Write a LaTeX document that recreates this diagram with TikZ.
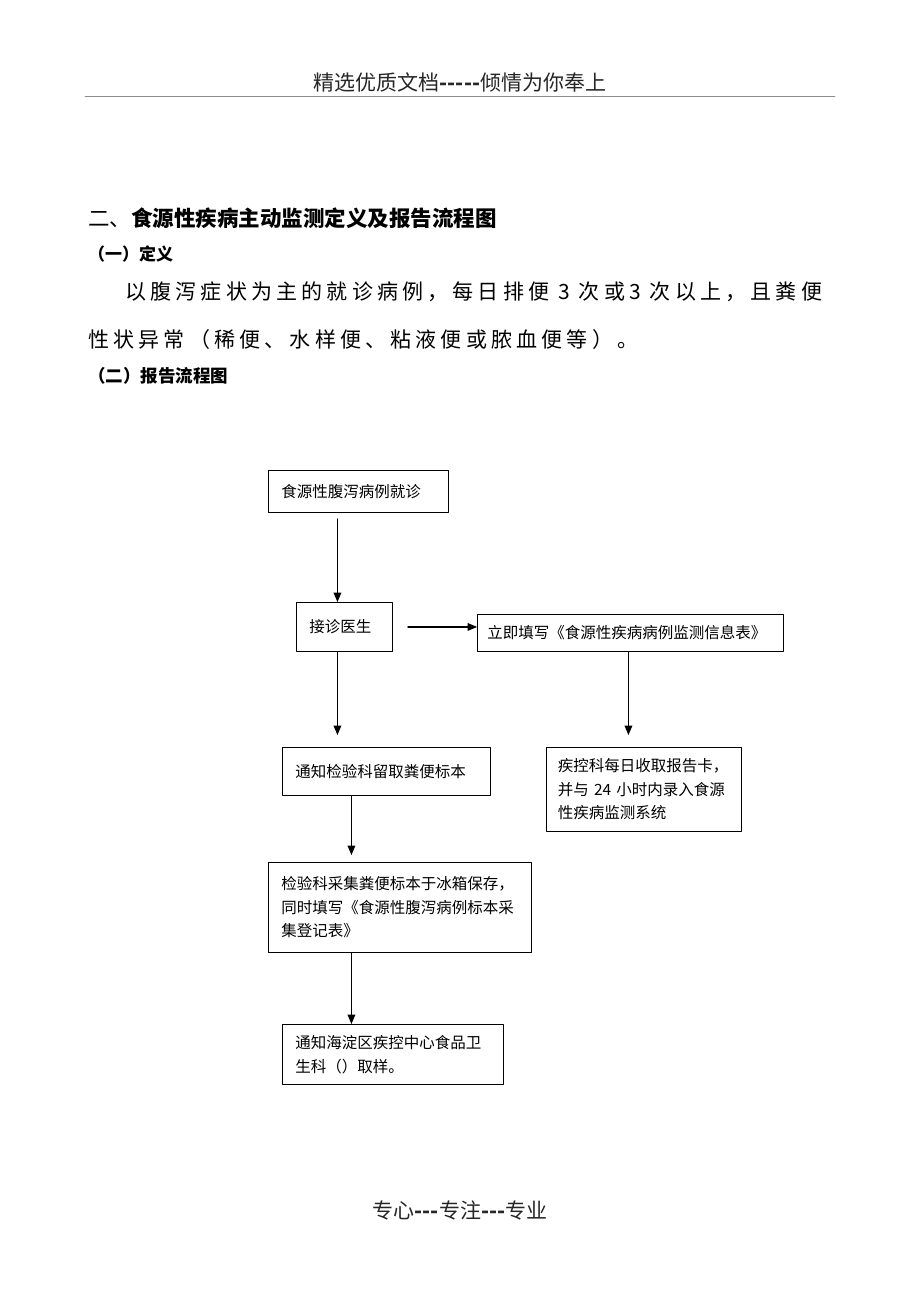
\documentclass[tikz,border=0pt]{standalone}
\usepackage{fontspec}
\setmainfont{Noto Sans CJK SC}
\newfontfamily\widecjk{Noto Sans CJK SC}[LetterSpace=20]
\usepackage{tikz}
\usetikzlibrary{arrows}
\tikzset{
    flowbox/.style={draw, line width=0.9pt, anchor=north west, align=left, inner xsep=13pt, inner ysep=0pt,
        font=\fontsize{15.5}{23.5}\selectfont},
    plaintext/.style={anchor=west, inner sep=0pt}
}

\begin{document}
\begin{tikzpicture}[x=1pt,y=-1pt,line cap=round,line join=round,>=triangle 45]
    \useasboundingbox (0,0) rectangle (920,1302);
    % page header and footer
    \node[inner sep=0pt, text=black!85, font=\fontsize{21}{21}\selectfont] (header) at (460,82) {精选优质文档\textbf{-{}-{}-{}-{}-}倾情为你奉上};
    \draw[black!45, line width=0.8pt] (85,96) -- (835,96);
    \node[inner sep=0pt, text=black!85, font=\fontsize{21}{21}\selectfont] (footer) at (460,1210) {专心\textbf{-{}-{}-}专注\textbf{-{}-{}-}专业};
    % headings and definition
    \node[plaintext, font=\fontsize{21.5}{21.5}\selectfont] (title) at (88,218) {二、\textbf{食源性疾病主动监测定义及报告流程图}};
    \node[plaintext, font=\fontsize{17}{17}\selectfont\bfseries] (defhead) at (88,254) {（一）定义};
    \node[plaintext, font=\fontsize{21}{21}\widecjk] (defline1) at (125,292) {以腹泻症状为主的就诊病例，每日排便 3 次或3 次以上，且粪便};
    \node[plaintext, font=\fontsize{21}{21}\widecjk] (defline2) at (88,340) {性状异常（稀便、水样便、粘液便或脓血便等）。};
    \node[plaintext, font=\fontsize{17.5}{17.5}\selectfont\bfseries] (flowhead) at (88,376) {（二）报告流程图};

    % flow chart boxes
    \node[flowbox, text width=154pt, minimum height=42pt] (visit) at (268,470) {食源性腹泻病例就诊};
    \node[flowbox, text width=70pt, minimum height=49pt] (doctor) at (296,602) {接诊医生};
    \node[flowbox, inner xsep=10pt, text width=286pt, minimum height=37pt] (fillform) at (477,614) {立即填写《食源性疾病病例监测信息表》};
    \node[flowbox, text width=182pt, minimum height=48pt] (notifylab) at (282,747) {通知检验科留取粪便标本};
    \node[flowbox, inner xsep=11.5pt, text width=172pt, minimum height=84pt] (cdcdaily) at (546,747) {疾控科每日收取报告卡，\\并与 24 小时内录入食源\\性疾病监测系统};
    \node[flowbox, text width=237pt, minimum height=90pt] (labstore) at (268,862) {检验科采集粪便标本于冰箱保存，\\同时填写《食源性腹泻病例标本采\\集登记表》};
    \node[flowbox, text width=195pt, minimum height=60pt] (notifycdc) at (282,1024) {通知海淀区疾控中心食品卫\\生科（）取样。};

    % connectors
    \draw[->, line width=1.2pt, shorten <=6pt] ([xshift=-21pt]visit.south) -- ([xshift=-7pt]doctor.north);
    \draw[->, line width=1.2pt] ([xshift=15pt]doctor.east) -- (doctor.east -| fillform.west);
    \draw[->, line width=1.2pt, shorten >=12pt] ([xshift=-7pt]doctor.south) -- ([xshift=-7pt]doctor.south |- notifylab.north);
    \draw[->, line width=1.2pt, shorten >=12pt] ([xshift=-2pt]fillform.south) -- ([xshift=-2pt]fillform.south |- cdcdaily.north);
    \draw[->, line width=1.2pt, shorten >=7pt] ([xshift=-35pt]notifylab.south) -- ([xshift=-35pt]notifylab.south |- labstore.north);
    \draw[->, line width=1.2pt] ([xshift=-48.5pt]labstore.south) -- ([xshift=-41.5pt]notifycdc.north);
\end{tikzpicture}
\end{document}
